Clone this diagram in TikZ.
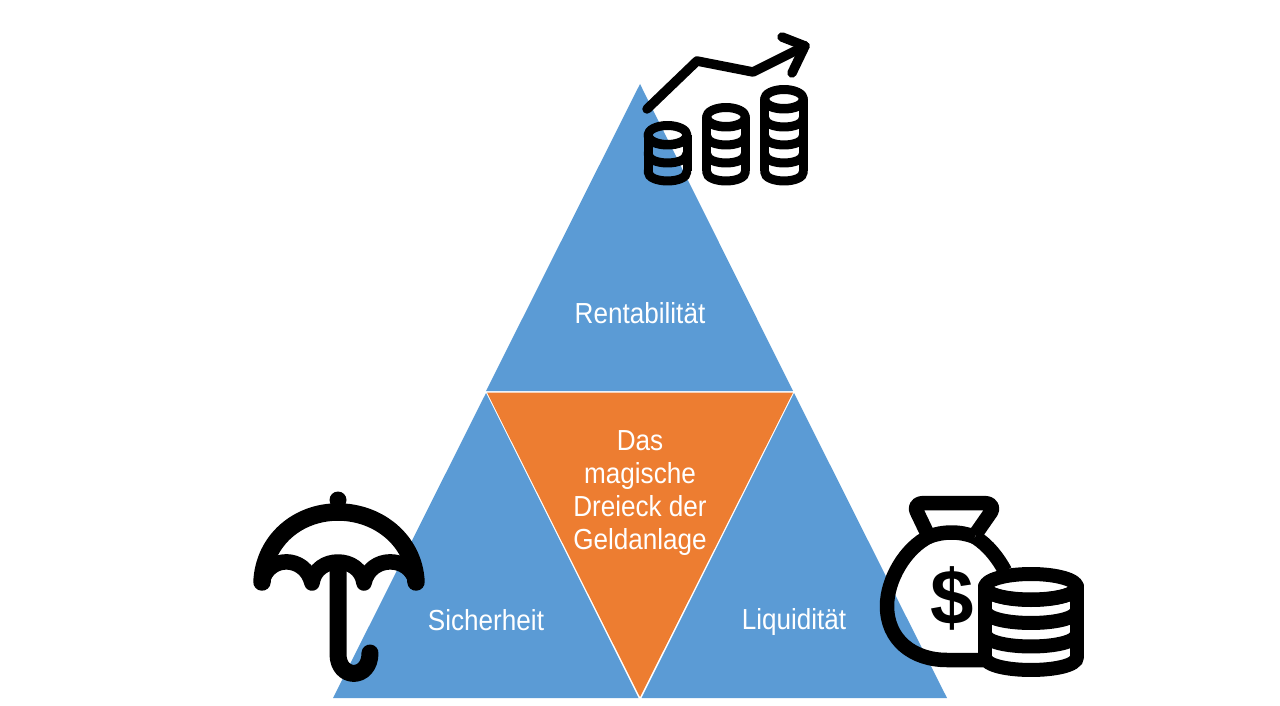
\documentclass[tikz,border=0pt]{standalone}
\usepackage{fontspec}
\setmainfont[FakeStretch=0.9]{Liberation Sans}
\newfontfamily\dollarfont{Liberation Sans}
\definecolor{pyramidblue}{HTML}{5B9BD5}
\definecolor{pyramidorange}{HTML}{ED7D31}

% coin stack: centre x, top y, x radius, y radius, layers, layer height, bottom y, line width
\newcommand{\coinstack}[8]{
  \draw[line width = #8, line cap = round, line join = round] (#1, #2) ellipse [x radius = #3, y radius = #4];
  \draw[line width = #8] ({#1-#3}, #2)--({#1-#3}, {#7-#4});
  \draw[line width = #8] ({#1+#3}, #2)--({#1+#3}, {#7-#4});
  \foreach \n in {1, ..., #5} {
    \draw[line width = #8, line cap = round] ({#1-#3}, {#7-(\n-1)*#6-#4}) .. controls ({#1-#3}, {#7-(\n-1)*#6+0.33*#4}) and ({#1+#3}, {#7-(\n-1)*#6+0.33*#4}) .. ({#1+#3}, {#7-(\n-1)*#6-#4});
  }
}

\begin{document}
\begin{tikzpicture}[x = 1pt, y = -1pt]
\tikzstyle{label} = [text = white, align = center, font = \fontsize{29}{33}\selectfont, inner sep = 0pt]
\tikzstyle{part} = [fill = pyramidblue]
\tikzstyle{icon} = [line width = 17.5, line cap = round, line join = round]
\useasboundingbox (0, 0) rectangle (1280, 706);
% -----------------------------------
% Triangles
\fill[part] (640, 84)--(793, 391)--(486, 391)--cycle;
\fill[part] (486, 393)--(638.5, 698)--(333, 698)--cycle;
\fill[part] (794, 393)--(947, 698)--(641.5, 698)--cycle;
\fill[pyramidorange] (487, 392.5)--(793, 392.5)--(640, 697)--cycle;

\node[label] (rendite) at (640, 313) {Rentabilität};
\node[label] (sicher) at (486, 620) {Sicherheit};
\node[label] (liquide) at (794, 622) {Liquidität};
\node[label] (mitte) at (640, 493.5) {Das\\magische\\Dreieck der\\Geldanlage};

% -----------------------------------
% Coins and arrow
\coinstack{667.5}{135}{19.5}{9.5}{3}{18}{181}{9}
\coinstack{726}{117}{19.5}{9.5}{4}{18}{181}{9}
\coinstack{784}{99}{19.5}{9.5}{5}{18}{181}{9}
\draw[line width = 9.5, line cap = round, line join = round] (647, 109)--(697, 61)--(753, 72)--(805, 46);
\draw[line width = 9.5, line cap = round, line join = round] (782, 37)--(805, 46)--(792, 73);

% -----------------------------------
% Umbrella
\fill (338, 500) circle (8.5);
\draw[icon] (262, 582) .. controls (264, 540) and (298, 512) .. (338, 512) .. controls (378, 512) and (414, 540) .. (416, 582);
\draw[icon, line width = 15.5] (262, 582) .. controls (268, 555) and (305, 555) .. (312, 583) .. controls (316, 555) and (360, 555) .. (364, 583) .. controls (370, 555) and (410, 555) .. (416, 582);
\draw[icon, line width = 17] (338, 565)--(338, 654) .. controls (338, 680) and (370, 680) .. (370, 653);

% -----------------------------------
% Money bag
\draw[line width = 14.5, line join = round] (928, 535)--(917, 512) .. controls (914, 506) and (918, 503) .. (924, 503)--(984, 503) .. controls (990, 503) and (994, 506) .. (991, 512)--(975, 535);
\draw[line width = 14.5] (928, 537) .. controls (943, 531) and (960, 531) .. (975, 537);
\draw[line width = 14.5] (930, 536) .. controls (905, 548) and (887, 580) .. (887, 606) .. controls (887, 640) and (913, 660) .. (947, 660)--(985, 660);
\draw[line width = 14.5] (975, 537) .. controls (988, 545) and (998, 558) .. (1005, 571);
\node[font = \dollarfont\bfseries\fontsize{78}{78}\selectfont, inner sep = 0pt] (dollar) at (952, 598) {\$};
\coinstack{1031}{587}{46}{13}{4}{23.5}{670}{14}
\end{tikzpicture}
\end{document}
